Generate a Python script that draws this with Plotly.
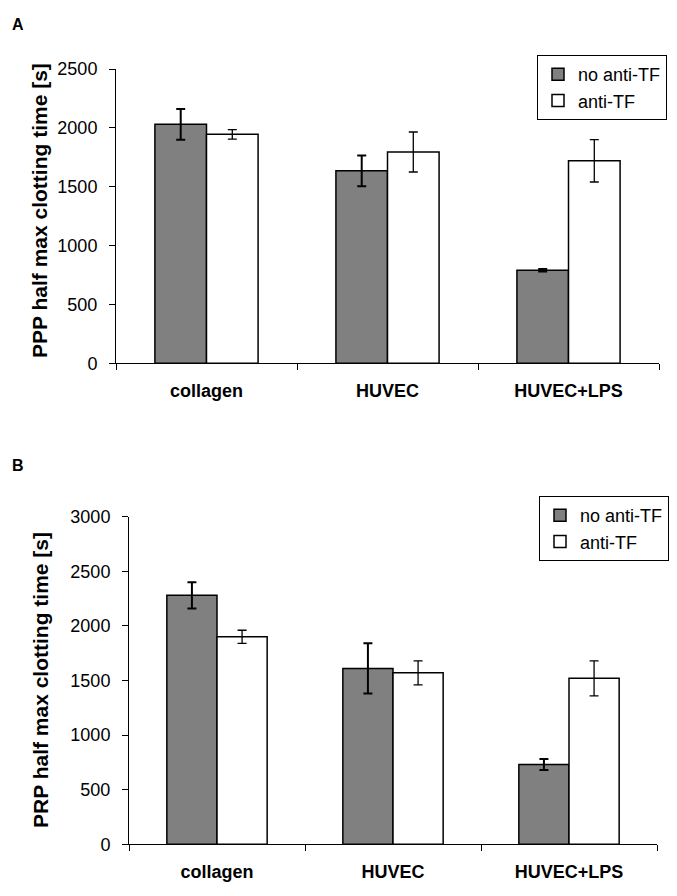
import plotly.graph_objects as go

W, H = 677, 896

categories = ["collagen", "HUVEC", "HUVEC+LPS"]
series_names = ["no anti-TF", "anti-TF"]

# Panel A (PPP)
ppp_no_anti = [2030, 1635, 790]
ppp_no_anti_err = [130, 130, 10]
ppp_anti = [1945, 1795, 1720]
ppp_anti_err = [40, 170, 180]

# Panel B (PRP)
prp_no_anti = [2280, 1610, 730]
prp_no_anti_err = [120, 230, 50]
prp_anti = [1900, 1570, 1520]
prp_anti_err = [60, 110, 160]

ppp_ticks = [0, 500, 1000, 1500, 2000, 2500]
prp_ticks = [0, 500, 1000, 1500, 2000, 2500, 3000]

FONT = "Liberation Sans, Arial, sans-serif"
GRAY = "#808080"

fig = go.Figure()

def add_panel(xa, ya, legend, vals_a, err_a, vals_b, err_b):
    fig.add_trace(go.Bar(
        x=categories, y=vals_a, name=series_names[0],
        marker=dict(color=GRAY, line=dict(color="black", width=1.5)),
        error_y=dict(type="data", array=err_a, color="black", thickness=2, width=4.5),
        xaxis=xa, yaxis=ya, legend=legend,
    ))
    fig.add_trace(go.Bar(
        x=categories, y=vals_b, name=series_names[1],
        marker=dict(color="white", line=dict(color="black", width=1.5)),
        error_y=dict(type="data", array=err_b, color="black", thickness=1.3, width=4.5),
        xaxis=xa, yaxis=ya, legend=legend,
    ))

add_panel("x", "y", "legend", ppp_no_anti, ppp_no_anti_err, ppp_anti, ppp_anti_err)
add_panel("x2", "y2", "legend2", prp_no_anti, prp_no_anti_err, prp_anti, prp_anti_err)

def px_x(p):
    return p / W

def px_y(p):
    return 1 - p / H

xcommon = dict(
    showline=True, linecolor="black", linewidth=1, automargin=False,
    ticks="outside", ticklen=6, tickcolor="black", tickson="boundaries",
    showgrid=False, zeroline=False, ticklabelstandoff=11,
    tickfont=dict(family=FONT, size=18, color="black", weight="bold"),
)
ycommon = dict(
    showline=True, linecolor="black", linewidth=1, automargin=False,
    ticks="outside", ticklen=6, tickcolor="black",
    showgrid=False, zeroline=False, ticklabelstandoff=8,
    tickfont=dict(family=FONT, size=18, color="black"),
)

legend_common = dict(
    xanchor="right", yanchor="top",
    bordercolor="black", borderwidth=1, bgcolor="white",
    font=dict(family=FONT, size=18, color="black"),
    itemwidth=30, tracegroupgap=0,
)

fig.update_layout(
    width=W, height=H,
    margin=dict(l=0, r=0, t=0, b=0, pad=0, autoexpand=False),
    paper_bgcolor="white", plot_bgcolor="white",
    barmode="group", bargap=0.43, bargroupgap=0,
    xaxis=dict(domain=[px_x(116), px_x(659)], anchor="y", **xcommon),
    yaxis=dict(domain=[px_y(363.3), px_y(69)], anchor="x", range=[0, 2500],
               tickvals=ppp_ticks, **ycommon),
    xaxis2=dict(domain=[px_x(129), px_x(657)], anchor="y2", **xcommon),
    yaxis2=dict(domain=[px_y(844.3), px_y(516.7)], anchor="x2", range=[0, 3000],
                tickvals=prp_ticks, **ycommon),
    legend=dict(x=px_x(667), y=px_y(55), **legend_common),
    legend2=dict(x=px_x(669), y=px_y(496), **legend_common),
    annotations=[
        dict(text="<b>A</b>", x=px_x(10), y=px_y(24), xref="paper", yref="paper",
             xanchor="left", yanchor="middle", showarrow=False,
             font=dict(family=FONT, size=16, color="black")),
        dict(text="<b>B</b>", x=px_x(10), y=px_y(465), xref="paper", yref="paper",
             xanchor="left", yanchor="middle", showarrow=False,
             font=dict(family=FONT, size=16, color="black")),
        dict(text="<b>PPP half max clotting time [s]</b>", x=px_x(40), y=px_y(211),
             xref="paper", yref="paper", xanchor="center", yanchor="middle",
             textangle=-90, showarrow=False,
             font=dict(family=FONT, size=21, color="black")),
        dict(text="<b>PRP half max clotting time [s]</b>", x=px_x(40), y=px_y(680),
             xref="paper", yref="paper", xanchor="center", yanchor="middle",
             textangle=-90, showarrow=False,
             font=dict(family=FONT, size=21, color="black")),
    ],
)

fig.write_html(
    "out.html",
    config={"displayModeBar": False},
    post_script="document.body.style.margin='0';document.body.style.overflow='hidden';",
)
